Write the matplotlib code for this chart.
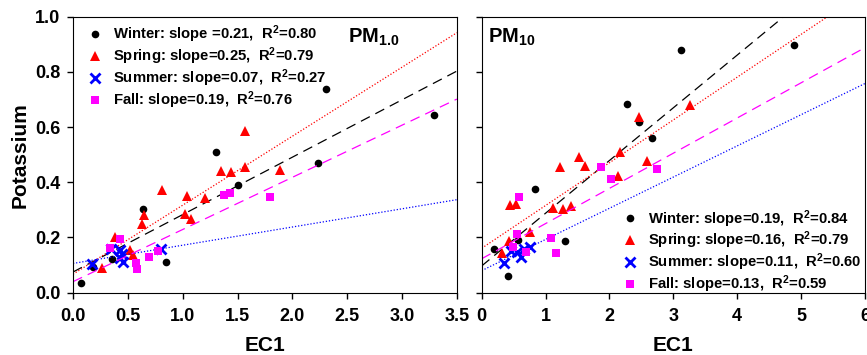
import numpy as np
import matplotlib
matplotlib.use("Agg")
import matplotlib.pyplot as plt

plt.rcParams['font.family'] = ['Liberation Sans', 'DejaVu Sans']
plt.rcParams['font.weight'] = 'bold'
plt.rcParams['mathtext.fontset'] = 'custom'
plt.rcParams['mathtext.bf'] = 'Liberation Sans:bold'
plt.rcParams['mathtext.rm'] = 'Liberation Sans:bold'
plt.rcParams['mathtext.default'] = 'bf'

seasons = ['Winter', 'Spring', 'Summer', 'Fall']

# PM1.0 panel
pm1_winter_x = [0.07, 0.18, 0.36, 0.64, 0.85, 1.30, 1.50, 2.23, 2.31, 3.29]
pm1_winter_y = [0.036, 0.094, 0.123, 0.303, 0.110, 0.510, 0.391, 0.469, 0.739, 0.645]
pm1_spring_x = [0.26, 0.38, 0.52, 0.55, 0.63, 0.65, 0.81, 1.02, 1.04, 1.08, 1.20, 1.35, 1.44, 1.57, 1.57, 1.89]
pm1_spring_y = [0.088, 0.200, 0.155, 0.137, 0.249, 0.280, 0.372, 0.285, 0.350, 0.267, 0.342, 0.442, 0.437, 0.454, 0.585, 0.443]
pm1_summer_x = [0.17, 0.35, 0.43, 0.45, 0.43, 0.46, 0.80]
pm1_summer_y = [0.105, 0.160, 0.155, 0.140, 0.125, 0.110, 0.160]
pm1_fall_x = [0.335, 0.43, 0.57, 0.58, 0.69, 0.775, 1.38, 1.43, 1.80]
pm1_fall_y = [0.161, 0.193, 0.106, 0.087, 0.128, 0.150, 0.354, 0.360, 0.346]
pm1_slope = [0.208, 0.250, 0.066, 0.189]
pm1_icpt = [0.075, 0.067, 0.106, 0.040]
pm1_labels = ['Winter: slope =0.21,  R$^2$=0.80',
              'Spring: slope=0.25,  R$^2$=0.79',
              'Summer: slope=0.07,  R$^2$=0.27',
              'Fall: slope=0.19,  R$^2$=0.76']

# PM10 panel
pm10_winter_x = [0.19, 0.41, 0.57, 0.83, 1.30, 2.28, 2.47, 2.67, 3.12, 4.89]
pm10_winter_y = [0.159, 0.059, 0.191, 0.375, 0.188, 0.683, 0.618, 0.562, 0.879, 0.896]
pm10_spring_x = [0.32, 0.43, 0.44, 0.53, 0.76, 1.12, 1.23, 1.28, 1.39, 1.52, 1.62, 2.13, 2.16, 2.47, 2.58, 3.26]
pm10_spring_y = [0.143, 0.188, 0.318, 0.321, 0.219, 0.306, 0.454, 0.303, 0.314, 0.490, 0.459, 0.424, 0.511, 0.638, 0.477, 0.679]
pm10_summer_x = [0.35, 0.46, 0.56, 0.62, 0.66, 0.76]
pm10_summer_y = [0.106, 0.152, 0.146, 0.128, 0.157, 0.167]
pm10_fall_x = [0.49, 0.56, 0.58, 0.69, 1.08, 1.17, 1.87, 2.03, 2.74]
pm10_fall_y = [0.167, 0.212, 0.346, 0.149, 0.197, 0.145, 0.454, 0.412, 0.447]
pm10_slope = [0.191, 0.155, 0.113, 0.1275]
pm10_icpt = [0.097, 0.161, 0.080, 0.123]
pm10_labels = ['Winter: slope=0.19,  R$^2$=0.84',
               'Spring: slope=0.16,  R$^2$=0.79',
               'Summer: slope=0.11,  R$^2$=0.60',
               'Fall: slope=0.13,  R$^2$=0.59']

colors = ['black', 'red', 'blue', 'magenta']
markers = ['o', '^', 'x', 's']
msizes = [5.5, 7, 7, 6]
lstyles = [(0, (8, 5)), (0, (1, 1.5)), (0, (1, 1.5)), (0, (8, 5))]

fig = plt.figure(figsize=(8.67, 3.55), dpi=100)
ax1 = fig.add_axes([0.0842, 0.1755, 0.4428, 0.7775])
ax2 = fig.add_axes([0.5556, 0.1755, 0.4421, 0.7775])


def draw(ax, xs, ys, slopes, icpts, labels, xmax):
    handles = []
    for i in range(4):
        xl = np.array([0, xmax])
        ax.plot(xl, icpts[i] + slopes[i] * xl, color=colors[i], ls=lstyles[i], lw=0.9)
        mew = 2 if markers[i] == 'x' else 0
        h, = ax.plot(xs[i], ys[i], ls='none', marker=markers[i], color=colors[i],
                     ms=msizes[i], mew=mew, label=labels[i])
        handles.append(h)
    ax.set_xlim(0, xmax)
    ax.set_ylim(0, 1.0)
    ax.tick_params(direction='out', length=4, width=1, labelsize=13, pad=5,
                   top=False, right=False)
    ax.tick_params(axis='x', pad=7)
    ax.set_xlabel('EC1', fontsize=15, fontweight='bold', labelpad=8)
    return handles


h1 = draw(ax1, [pm1_winter_x, pm1_spring_x, pm1_summer_x, pm1_fall_x],
          [pm1_winter_y, pm1_spring_y, pm1_summer_y, pm1_fall_y],
          pm1_slope, pm1_icpt, pm1_labels, 3.5)
ax1.set_xticks(np.arange(0, 3.51, 0.5))
ax1.set_xticklabels(['%.1f' % v for v in np.arange(0, 3.51, 0.5)], fontweight='bold')
ax1.set_yticks(np.arange(0, 1.01, 0.2))
ax1.set_yticklabels(['%.1f' % v for v in np.arange(0, 1.01, 0.2)], fontweight='bold')
ax1.set_ylabel('Potassium', fontsize=15, fontweight='bold', labelpad=4)
ax1.legend(handles=h1, loc='upper left', bbox_to_anchor=(0.0, 1.012), frameon=False,
           fontsize=10.7, borderaxespad=0.3, handletextpad=0.5, labelspacing=0.02,
           handlelength=1.5)
ax1.text(0.716, 0.962, 'PM$_{1.0}$', transform=ax1.transAxes, ha='left', va='top', fontsize=14.5)

h2 = draw(ax2, [pm10_winter_x, pm10_spring_x, pm10_summer_x, pm10_fall_x],
          [pm10_winter_y, pm10_spring_y, pm10_summer_y, pm10_fall_y],
          pm10_slope, pm10_icpt, pm10_labels, 6)
ax2.set_xticks(range(0, 7))
ax2.set_xticklabels([str(v) for v in range(0, 7)], fontweight='bold')
ax2.set_yticks(np.arange(0, 1.01, 0.2))
ax2.set_yticklabels([])
ax2.legend(handles=h2, loc='lower right', bbox_to_anchor=(1.0, -0.02), frameon=False,
           fontsize=10.7, borderaxespad=0.0, borderpad=0.2, handletextpad=0.5,
           labelspacing=0.02, handlelength=1.5)
ax2.text(0.016, 0.962, 'PM$_{10}$', transform=ax2.transAxes, ha='left', va='top', fontsize=14.5)

fig.savefig('out.png', dpi=100)
